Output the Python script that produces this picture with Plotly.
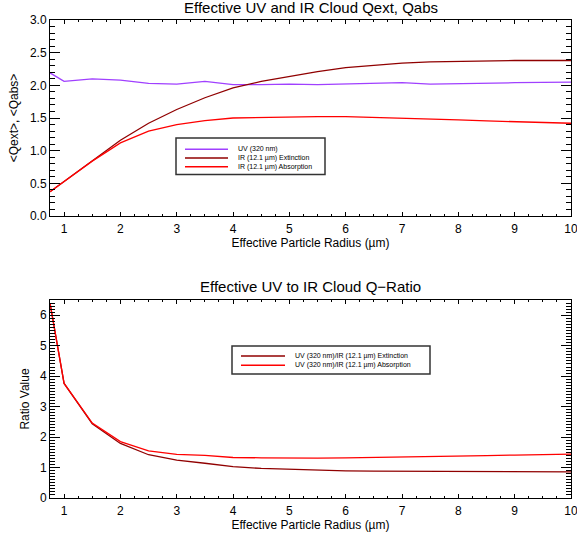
import plotly.graph_objects as go

# ---- data ----
radius = [0.75, 1, 1.5, 2, 2.5, 3, 3.5, 4, 4.5, 5, 5.5, 6, 6.5, 7, 7.5, 8, 8.5, 9, 9.5, 10]
uv_qext = [2.19, 2.06, 2.10, 2.08, 2.03, 2.02, 2.06, 2.01, 2.01, 2.02, 2.01, 2.02, 2.03, 2.04, 2.02, 2.03, 2.035, 2.04, 2.045, 2.05]
ir_qext = [0.37, 0.53, 0.84, 1.16, 1.42, 1.63, 1.81, 1.96, 2.06, 2.14, 2.21, 2.27, 2.31, 2.34, 2.36, 2.37, 2.375, 2.38, 2.38, 2.38]
ir_qabs = [0.37, 0.53, 0.84, 1.12, 1.30, 1.40, 1.46, 1.50, 1.51, 1.52, 1.52, 1.52, 1.51, 1.50, 1.485, 1.47, 1.455, 1.445, 1.43, 1.42]
ratio_ext = [6.40, 3.76, 2.44, 1.79, 1.42, 1.24, 1.14, 1.03, 0.97, 0.94, 0.91, 0.89, 0.88, 0.875, 0.865, 0.857, 0.856, 0.857, 0.858, 0.86]
ratio_abs = [6.40, 3.76, 2.46, 1.85, 1.55, 1.43, 1.40, 1.33, 1.32, 1.31, 1.31, 1.32, 1.33, 1.35, 1.36, 1.38, 1.39, 1.41, 1.42, 1.44]

labels_top = ["UV (320 nm)", "IR (12.1 µm) Extinction", "IR (12.1 µm) Absorption"]
labels_bot = ["UV (320 nm)/IR (12.1 µm) Extinction", "UV (320 nm)/IR (12.1 µm) Absorption"]
titles = ["Effective UV and IR Cloud Qext, Qabs", "Effective UV to IR Cloud Q\u2212Ratio"]
xlabel = "Effective Particle Radius (µm)"
ylabels = ["<Qext>, <Qabs>", "Ratio Value"]
xticks = list(range(1, 11))
yticks_top = [0, 0.5, 1, 1.5, 2, 2.5, 3]
yticktext_top = ["0.0", "0.5", "1.0", "1.5", "2.0", "2.5", "3.0"]
yticks_bot = [0, 1, 2, 3, 4, 5, 6]

C_UV = "#a040ff"
C_EXT = "#900000"
C_ABS = "#ff0000"
colors_top = [C_UV, C_EXT, C_ABS]
colors_bot = [C_EXT, C_ABS]
FONT = "Liberation Sans, Arial, sans-serif"

W, H = 577, 535
ML, MR, MT, MB = 50, 6, 20, 37
PW, PH = W - ML - MR, H - MT - MB


def px(xp):
    return (xp - ML) / PW


def py(yp):
    return (H - MB - yp) / PH


fig = go.Figure()
for y, name, c in zip([uv_qext, ir_qext, ir_qabs], labels_top, colors_top):
    fig.add_trace(go.Scatter(x=radius, y=y, mode="lines", name=name, showlegend=False,
                             line=dict(color=c, width=1.3), xaxis="x", yaxis="y"))
for y, name, c in zip([ratio_ext, ratio_abs], labels_bot, colors_bot):
    fig.add_trace(go.Scatter(x=radius, y=y, mode="lines", name=name, showlegend=False,
                             line=dict(color=c, width=1.3), xaxis="x2", yaxis="y2"))


def xax(anchor):
    return dict(range=[0.75, 10], anchor=anchor, domain=[0, 1], tickmode="array",
                tickvals=xticks, ticks="inside", ticklen=4, tickcolor="black",
                mirror="allticks", showline=True, linecolor="black", linewidth=1,
                showgrid=False, zeroline=False, automargin=False,
                ticklabeloverflow="allow", ticklabelstandoff=2,
                minor=dict(ticks="inside", ticklen=2, dtick=0.25, tickcolor="black", showgrid=False),
                tickfont=dict(size=12, color="black", family=FONT),
                title=dict(text=xlabel, font=dict(size=12, color="black", family=FONT), standoff=2))


def yax(anchor, domain, rng, tv, tt, minor_dt, title, standoff):
    d = dict(domain=domain, range=rng, anchor=anchor, tickmode="array", tickvals=tv,
             ticks="inside", ticklen=10, tickcolor="black", mirror="allticks",
             showline=True, linecolor="black", linewidth=1, showgrid=False, zeroline=False,
             automargin=False, ticklabeloverflow="allow",
             minor=dict(ticks="inside", ticklen=5, dtick=minor_dt, tickcolor="black", showgrid=False),
             tickfont=dict(size=12, color="black", family=FONT),
             title=dict(text=title, font=dict(size=12, color="black", family=FONT), standoff=standoff))
    if tt is not None:
        d["ticktext"] = tt
    return d


shapes = []
annotations = [
    dict(text=titles[0], x=0.5, y=1.0, xref="paper", yref="paper", yshift=2,
         xanchor="center", yanchor="bottom", showarrow=False,
         font=dict(size=15, color="black", family=FONT)),
    dict(text=titles[1], x=0.5, y=py(300), xref="paper", yref="paper", yshift=3,
         xanchor="center", yanchor="bottom", showarrow=False,
         font=dict(size=15, color="black", family=FONT)),
]


def add_legend(box, line_x, text_x, rows, labels, colors):
    x0, x1, y0, y1 = box
    shapes.append(dict(type="rect", xref="paper", yref="paper",
                       x0=px(x0), x1=px(x1), y0=py(y1), y1=py(y0),
                       line=dict(color="#333333", width=1.5), fillcolor="white", layer="above"))
    for yr, lab, c in zip(rows, labels, colors):
        shapes.append(dict(type="line", xref="paper", yref="paper",
                           x0=px(line_x[0]), x1=px(line_x[1]), y0=py(yr), y1=py(yr),
                           line=dict(color=c, width=1.5), layer="above"))
        annotations.append(dict(text=lab, x=px(text_x), y=py(yr), xref="paper", yref="paper",
                                xanchor="left", yanchor="middle", showarrow=False,
                                font=dict(size=7, color="black", family=FONT)))


add_legend((176, 325, 138, 174.5), (185, 228), 236, [149.3, 158, 166.7], labels_top, colors_top)
add_legend((232, 430, 346, 374), (241, 285), 293, [356, 365.3], labels_bot, colors_bot)

fig.update_layout(
    width=W, height=H,
    margin=dict(l=ML, r=MR, t=MT, b=MB),
    paper_bgcolor="white", plot_bgcolor="white",
    font=dict(family=FONT, color="black"),
    showlegend=False,
    xaxis=xax("y"),
    xaxis2=xax("y2"),
    yaxis=yax("x", [py(216), 1.0], [0, 3], yticks_top, yticktext_top, 0.1, ylabels[0], 8),
    yaxis2=yax("x2", [0.0, py(300)], [0, 6.5], yticks_bot, None, 0.1, ylabels[1], 7),
    shapes=shapes,
    annotations=annotations,
)

fig.write_html("out.html", config={"displayModeBar": False},
               post_script="document.body.style.margin='0';document.body.style.overflow='hidden';")
